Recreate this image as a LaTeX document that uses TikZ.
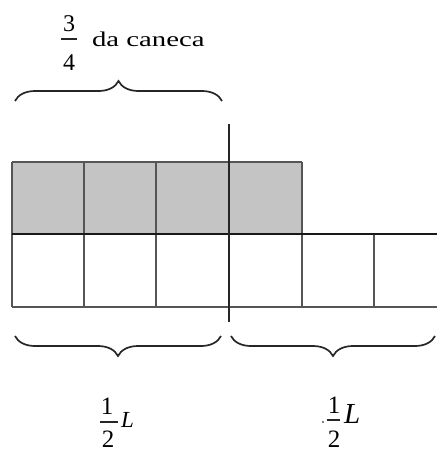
\documentclass[tikz,border=0pt]{standalone}
\usepackage{fontspec}
\setmainfont{Liberation Serif}
\usetikzlibrary{decorations.pathreplacing}
\definecolor{cellgray}{RGB}{196,196,196}
\definecolor{linegray}{RGB}{85,85,85}
\tikzset{
  gridline/.style={draw=linegray, line width=1.6pt},
  divider/.style={draw=black!85, line width=1.6pt},
  bracestyle/.style={draw=black!85, line width=1.7pt, decorate, decoration={brace, amplitude=20pt}},
  fracbar/.style={draw=black!85, line width=1.3pt},
  txt/.style={inner sep=0pt, outer sep=0pt}
}
\begin{document}
\begin{tikzpicture}[x=1pt, y=-1pt]
\useasboundingbox (0,0) rectangle (437,453);
% shaded top row
\fill[cellgray] (12,162) rectangle (302,234);
% top row cells
\draw[gridline] (12,162) -- (302,162);
\foreach \x in {12,84,156,229,302} \draw[gridline] (\x,162) -- (\x,234);
% bottom row cells
\draw[gridline] (12,307) -- (437,307);
\foreach \x in {12,84,156,229,302,374} \draw[gridline] (\x,234) -- (\x,307);
\draw[draw=black!90, line width=1.7pt] (12,234) -- (437,234);
% divider
\coordinate (dtop) at (229,124);
\coordinate (dbot) at (229,322);
\draw[divider] (dtop) -- (dbot);
% braces
\coordinate (tbl) at (15,101);
\coordinate (tbr) at (222,101);
\draw[bracestyle] (tbl) -- (tbr);
\coordinate (blr) at (221,336);
\coordinate (bll) at (15,336);
\draw[bracestyle] (blr) -- (bll);
\coordinate (brr) at (435,336);
\coordinate (brl) at (231,336);
\draw[bracestyle] (brr) -- (brl);
% top label
\node[txt, anchor=base] (n3) at (69,31) {\fontsize{24}{28}\selectfont 3};
\node[txt, anchor=base] (n4) at (69,70) {\fontsize{24}{28}\selectfont 4};
\coordinate (tb1) at (61,39);
\coordinate (tb2) at (77,39);
\draw[fracbar] (tb1) -- (tb2);
\node[txt, anchor=base west] (cap) at (92,46) {\scalebox{1.37}[1]{\fontsize{21}{25}\selectfont da caneca}};
% bottom left label
\node[txt, anchor=base] (l1) at (107,414) {\fontsize{25}{29}\selectfont 1};
\node[txt, anchor=base] (l2) at (108,447) {\fontsize{25}{29}\selectfont 2};
\coordinate (lb1) at (100,422);
\coordinate (lb2) at (118,422);
\draw[fracbar] (lb1) -- (lb2);
\node[txt, anchor=base west] (lL) at (121,427) {\fontsize{23}{27}\selectfont\itshape L};
% bottom right label
\fill (323,422) circle (0.9pt);
\node[txt, anchor=base] (r1) at (334,413) {\fontsize{25}{29}\selectfont 1};
\node[txt, anchor=base] (r2) at (334,447) {\fontsize{25}{29}\selectfont 2};
\coordinate (rb1) at (327,420);
\coordinate (rb2) at (340,420);
\draw[fracbar] (rb1) -- (rb2);
\node[txt, anchor=base west] (rL) at (344,423) {\fontsize{29}{33}\selectfont\itshape L};
\end{tikzpicture}
\end{document}
